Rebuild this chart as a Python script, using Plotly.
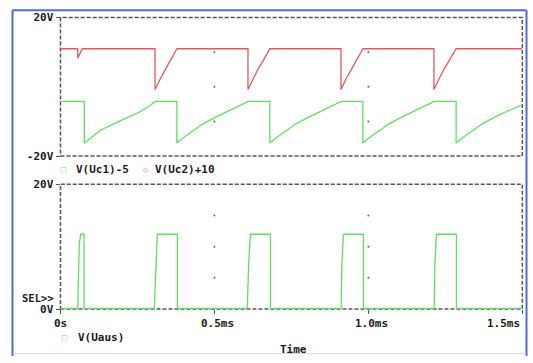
import plotly.graph_objects as go

# ---------------- data ----------------
# Top plot: V(Uc1)-5 (green)
t_uc1 = [0.0, 0.0774, 0.0774, 0.1284, 0.1934, 0.2584, 0.2909, 0.307,
         0.378, 0.378, 0.400, 0.421, 0.464, 0.508, 0.551, 0.594, 0.610,
         0.680, 0.680, 0.702, 0.723, 0.766, 0.810, 0.853, 0.896, 0.912,
         0.982, 0.982, 1.004, 1.025, 1.068, 1.112, 1.155, 1.198, 1.214,
         1.285, 1.285, 1.307, 1.328, 1.371, 1.414, 1.457, 1.500]
v_uc1 = [-4.2, -4.2, -16.2, -12.6, -9.8, -7.2, -5.4, -4.2,
         -4.2, -16.2, -14.6, -13.25, -10.6, -8.6, -6.75, -5.1, -4.2,
         -4.2, -16.2, -14.6, -13.25, -10.6, -8.6, -6.75, -5.1, -4.2,
         -4.2, -16.2, -14.6, -13.25, -10.6, -8.6, -6.75, -5.1, -4.2,
         -4.2, -16.2, -14.6, -13.25, -10.6, -8.6, -6.75, -5.2]

# Top plot: V(Uc2)+10 (red)
t_uc2 = [0.0, 0.0559, 0.0559, 0.0708,
         0.307, 0.307, 0.3234, 0.3396, 0.3559, 0.372, 0.378,
         0.609, 0.609, 0.625, 0.641, 0.658, 0.674, 0.680,
         0.911, 0.911, 0.927, 0.943, 0.960, 0.976, 0.982,
         1.213, 1.213, 1.229, 1.245, 1.262, 1.278, 1.285, 1.500]
v_uc2 = [11.0, 11.0, 8.3, 11.0,
         11.0, -0.75, 2.2, 5.0, 7.5, 10.0, 11.0,
         11.0, -0.75, 2.2, 5.0, 7.5, 10.0, 11.0,
         11.0, -0.75, 2.2, 5.0, 7.5, 10.0, 11.0,
         11.0, -0.75, 2.2, 5.0, 7.5, 10.0, 11.0, 11.0]

# Bottom plot: V(Uaus) (green)
t_uaus = [0.0, 0.0559, 0.061, 0.0656, 0.0764, 0.0764,
          0.3048, 0.3104, 0.3146, 0.3796, 0.3796,
          0.6068, 0.6110, 0.6168, 0.6820, 0.6820,
          0.9116, 0.9139, 0.9190, 0.9840, 0.9840,
          1.2138, 1.2160, 1.2210, 1.2860, 1.2860, 1.5]
v_uaus = [0.1, 0.1, 10.4, 12.0, 12.0, 0.1,
          0.1, 7.1, 12.0, 12.0, 0.1,
          0.1, 7.1, 12.0, 12.0, 0.1,
          0.1, 7.1, 12.0, 12.0, 0.1,
          0.1, 7.1, 12.0, 12.0, 0.1, 0.1]

x_ticks = [0.0, 0.5, 1.0, 1.5]
x_ticktext = ["0s", "0.5ms", "1.0ms", "1.5ms"]
top_yticks = [-20, 20]
top_yticktext = ["-20V", "20V"]
bot_yticks = [0, 20]
bot_yticktext = ["0V", "20V"]
grid_x = [0.5, 1.0]
top_grid_y = [-10, 0, 10]
bot_grid_y = [5, 10, 15]

# ---------------- styling ----------------
W, H = 533, 363
GREEN = "#5ee05e"
RED = "#e05a5a"
FRAME = "#555555"
TXT = "#1a1a1a"
FONT = "DejaVu Sans Mono"

xdom = [60.5 / W, 522.3 / W]
top_dom = [1 - 155.7 / H, 1 - 12 / H]
bot_dom = [1 - 314.3 / H, 1 - 185 / H]

fig = go.Figure()

fig.add_trace(go.Scatter(x=t_uc1, y=v_uc1, mode="lines", xaxis="x", yaxis="y",
                         line=dict(color=GREEN, width=1.3), showlegend=False))
fig.add_trace(go.Scatter(x=t_uc2, y=v_uc2, mode="lines", xaxis="x", yaxis="y",
                         line=dict(color=RED, width=1.3), showlegend=False))
fig.add_trace(go.Scatter(x=t_uaus, y=v_uaus, mode="lines", xaxis="x2", yaxis="y2",
                         line=dict(color=GREEN, width=1.3), showlegend=False))

# grid dots
fig.add_trace(go.Scatter(x=[gx for gx in grid_x for _ in top_grid_y],
                         y=[gy for _ in grid_x for gy in top_grid_y],
                         mode="markers", xaxis="x", yaxis="y",
                         marker=dict(color="#666", size=2), showlegend=False))
fig.add_trace(go.Scatter(x=[gx for gx in grid_x for _ in bot_grid_y],
                         y=[gy for _ in grid_x for gy in bot_grid_y],
                         mode="markers", xaxis="x2", yaxis="y2",
                         marker=dict(color="#666", size=2), showlegend=False))

tickfont = dict(family=FONT, size=11, color=TXT, weight="bold")

fig.update_layout(
    width=W, height=H,
    margin=dict(l=0, r=0, t=0, b=0),
    paper_bgcolor="white", plot_bgcolor="white",
    font=dict(family=FONT, size=11, color=TXT),
    xaxis=dict(domain=xdom, range=[0, 1.5], anchor="y", showgrid=False,
               zeroline=False, showticklabels=False, ticks="", showline=False),
    xaxis2=dict(domain=xdom, range=[0, 1.5], anchor="y2", showgrid=False,
                zeroline=False, showticklabels=False, ticks="outside",
                ticklen=4, tickcolor=FRAME, tickvals=x_ticks, showline=False),
    yaxis=dict(domain=top_dom, range=[-20, 20], anchor="x", showgrid=False,
               zeroline=False, tickvals=top_yticks, ticktext=top_yticktext,
               ticks="outside", ticklen=4, tickcolor=FRAME, tickfont=tickfont,
               showline=False),
    yaxis2=dict(domain=bot_dom, range=[0, 20], anchor="x2", showgrid=False,
                zeroline=False, tickvals=bot_yticks, ticktext=bot_yticktext,
                ticks="outside", ticklen=4, tickcolor=FRAME, tickfont=tickfont,
                showline=False),
)

shapes = []
for xr, yr in [("x domain", "y domain"), ("x2 domain", "y2 domain")]:
    shapes.append(dict(type="rect", xref=xr, yref=yr, x0=0, x1=1, y0=0, y1=1,
                       line=dict(color=FRAME, width=1.5, dash="4px,2px"),
                       layer="below"))
# outer blue window frame
BLUE = "#5566ee"
shapes.append(dict(type="line", xref="paper", yref="paper",
                   x0=12.5 / W, x1=12.5 / W, y0=0, y1=1 - 4.5 / H,
                   line=dict(color=BLUE, width=2)))
shapes.append(dict(type="line", xref="paper", yref="paper",
                   x0=12.5 / W, x1=526.5 / W, y0=1 - 4.5 / H, y1=1 - 4.5 / H,
                   line=dict(color=BLUE, width=2)))
shapes.append(dict(type="line", xref="paper", yref="paper",
                   x0=526.5 / W, x1=526.5 / W, y0=0, y1=1 - 4.5 / H,
                   line=dict(color=BLUE, width=2)))
shapes.append(dict(type="line", xref="paper", yref="paper",
                   x0=13.5 / W, x1=525.5 / W, y0=2.5 / H, y1=2.5 / H,
                   line=dict(color="#d8d8d8", width=1)))
fig.update_layout(shapes=shapes)

ann = []
# x tick labels
anchors = ["center", "center", "center", "right"]
for xv, txt, anc in zip(x_ticks, x_ticktext, anchors):
    ann.append(dict(x=xv + (0.01 if anc == "center" and xv > 0 else 0), y=1 - 329.5 / H,
                    xref="x2", yref="paper", text=txt, showarrow=False,
                    xanchor=anc, yanchor="middle", font=tickfont))
# SEL>>
ann.append(dict(x=56 / W, y=1 - 303 / H, xref="paper", yref="paper",
                text="SEL>>", showarrow=False, xanchor="right", yanchor="middle",
                font=dict(family=FONT, size=10.5, color=TXT, weight="bold")))
# legends
ann.append(dict(x=63.5 / W, y=1 - 170 / H, xref="paper", yref="paper", text="□",
                showarrow=False, xanchor="center", yanchor="middle",
                font=dict(family="DejaVu Sans", size=7, color=GREEN)))
ann.append(dict(x=74 / W, y=1 - 170 / H, xref="paper", yref="paper", text="V(Uc1)-5",
                showarrow=False, xanchor="left", yanchor="middle", font=tickfont))
ann.append(dict(x=145.5 / W, y=1 - 170 / H, xref="paper", yref="paper", text="◇",
                showarrow=False, xanchor="center", yanchor="middle",
                font=dict(family="DejaVu Sans", size=7, color=RED)))
ann.append(dict(x=153 / W, y=1 - 170 / H, xref="paper", yref="paper", text="V(Uc2)+10",
                showarrow=False, xanchor="left", yanchor="middle", font=tickfont))
ann.append(dict(x=64 / W, y=1 - 344 / H, xref="paper", yref="paper", text="□",
                showarrow=False, xanchor="center", yanchor="middle",
                font=dict(family="DejaVu Sans", size=7, color=GREEN)))
ann.append(dict(x=76 / W, y=1 - 344 / H, xref="paper", yref="paper", text="V(Uaus)",
                showarrow=False, xanchor="left", yanchor="middle", font=tickfont))
ann.append(dict(x=293 / W, y=1 - 356 / H, xref="paper", yref="paper", text="Time",
                showarrow=False, xanchor="center", yanchor="middle", font=tickfont))
fig.update_layout(annotations=ann)

fig.write_html("out.html",
               config={"displayModeBar": False},
               post_script="document.body.style.margin='0';"
                           "document.body.style.overflow='hidden';")
